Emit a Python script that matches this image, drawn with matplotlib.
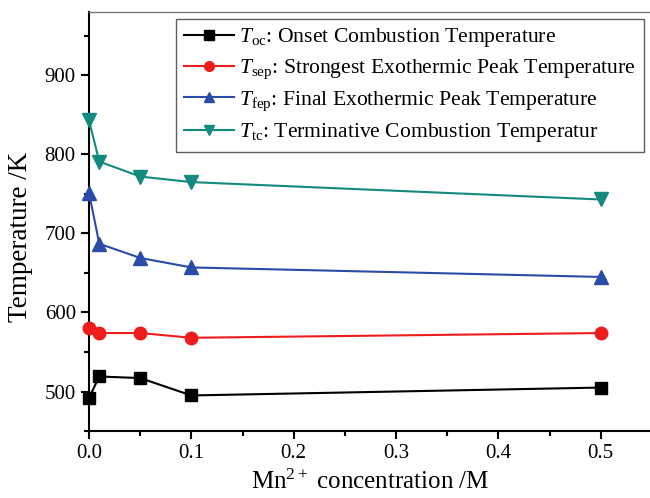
import matplotlib
matplotlib.use('Agg')
import matplotlib.pyplot as plt
from matplotlib.ticker import MultipleLocator

plt.rcParams['font.family'] = 'Liberation Serif'
plt.rcParams['mathtext.fontset'] = 'custom'
plt.rcParams['mathtext.rm'] = 'Liberation Serif'
plt.rcParams['mathtext.it'] = 'Liberation Serif:italic'

# datos
conc = [0.0, 0.01, 0.05, 0.1, 0.5]
t_oc = [492, 519, 517, 495, 505]
t_sep = [580, 574, 574, 568, 574]
t_fep = [751, 687, 669, 657, 645]
t_tc = [843, 791, 772, 765, 743]

etiquetas = [r'$T_{\rm oc}$: Onset Combustion Temperature',
             r'$T_{\rm sep}$: Strongest Exothermic Peak Temperature',
             r'$T_{\rm fep}$: Final Exothermic Peak Temperature',
             r'$T_{\rm tc}$: Terminative Combustion Temperatur']

fig = plt.figure(figsize=(6.5, 4.98), dpi=100)
ax = fig.add_axes([0.137, 0.1345, 0.866, 0.841])

ax.plot(conc, t_oc, color='black', marker='s', ms=8, lw=1.5, label=etiquetas[0], clip_on=False, zorder=3)
ax.plot(conc, t_sep, color='#ee1c1c', marker='o', ms=9, lw=1.5, label=etiquetas[1], clip_on=False, zorder=3)
ax.plot(conc, t_fep, color='#2b4ba9', marker='^', ms=9.5, lw=1.5, label=etiquetas[2], clip_on=False, zorder=3)
ax.plot(conc, t_tc, color='#138a7e', marker='v', ms=9.5, lw=1.5, label=etiquetas[3], clip_on=False, zorder=3)

ax.set_xlim(0, 0.55)
ax.set_ylim(450, 980)
ax.xaxis.set_major_locator(MultipleLocator(0.1))
ax.xaxis.set_minor_locator(MultipleLocator(0.05))
ax.yaxis.set_major_locator(MultipleLocator(100))
ax.yaxis.set_minor_locator(MultipleLocator(50))

ax.spines['right'].set_visible(False)
ax.spines['top'].set_color('#777777')
ax.spines['top'].set_linewidth(1.0)
ax.spines['left'].set_linewidth(1.5)
ax.spines['bottom'].set_linewidth(1.5)
ax.tick_params(which='major', direction='out', length=6, width=1.5, labelsize=15)
ax.tick_params(which='minor', direction='out', length=3.5, width=1.5)
ax.tick_params(which='both', top=False, right=False)

ax.set_xlabel(r'Mn$^{\mathregular{2+}}$ concentration /M', fontsize=18, labelpad=5)
ax.set_ylabel('Temperature /K', fontsize=19.5)
ax.yaxis.set_label_coords(-0.1, 0.463)

leg = ax.legend(loc='upper right', bbox_to_anchor=(0.985, 0.984), fontsize=15.6,
                frameon=True, fancybox=False, edgecolor='#333333',
                handlelength=2.3, handletextpad=0.25, labelspacing=0.38,
                borderpad=0.35, borderaxespad=0.0)
leg.get_frame().set_linewidth(1.0)
for h in leg.legend_handles:
    h.set_markersize(7)

fig.savefig('out.png', dpi=100)
